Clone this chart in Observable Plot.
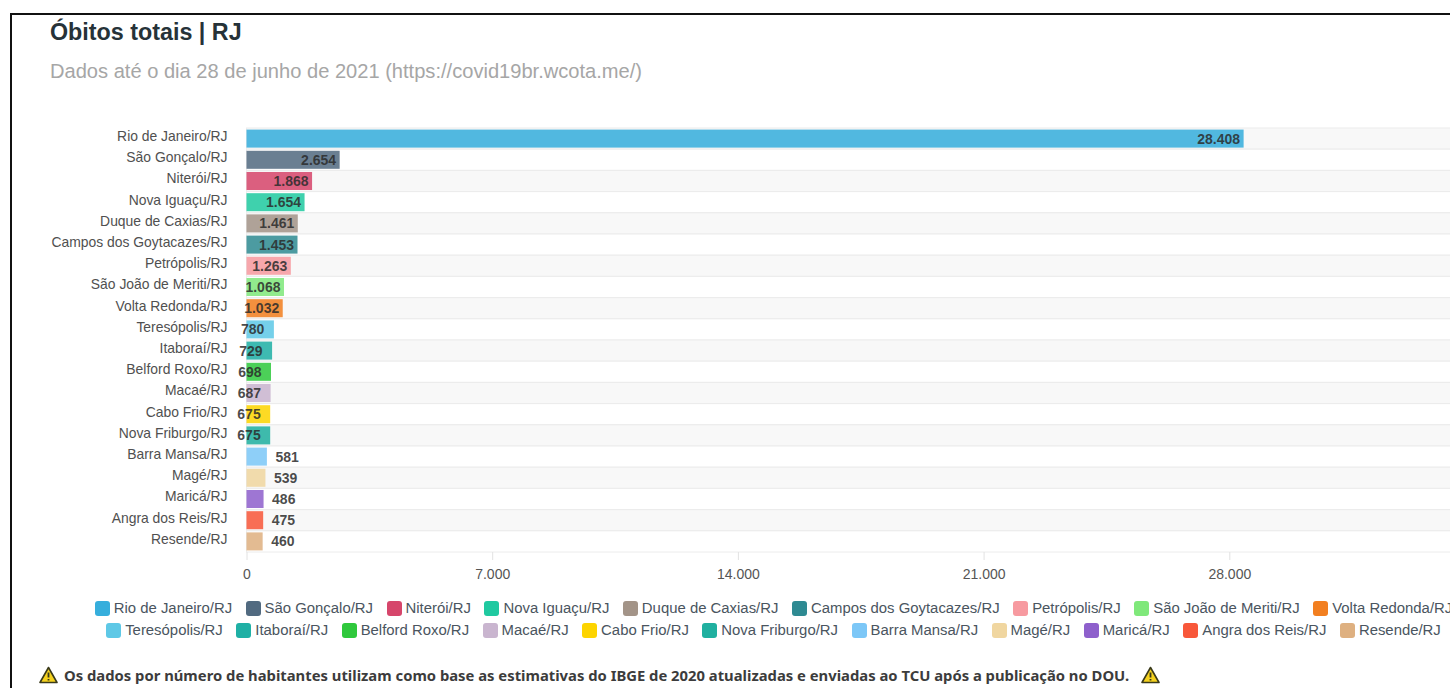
<!DOCTYPE html>
<html lang="pt-BR">
<head>
<meta charset="utf-8">
<title>Óbitos totais | RJ</title>
<script src="https://cdn.jsdelivr.net/npm/d3@7"></script>
<script src="https://cdn.jsdelivr.net/npm/@observablehq/plot@0.6"></script>
<style>
  html, body { margin: 0; width: 1450px; height: 688px; overflow: hidden; background: #fff; }
  body { position: relative; font-family: "Liberation Sans", Arial, sans-serif; }
  #frame { position: absolute; left: 10px; top: 12.5px; width: 1500px; height: 800px;
           border-left: 2px solid #111; border-top: 2px solid #111; }
  #chart { position: absolute; left: 0; top: 0; }
  #title { position: absolute; left: 50px; top: 19px; font-size: 23.3px; font-weight: 700; color: #263238; white-space: nowrap; }
  #subtitle { position: absolute; left: 50px; top: 60px; font-size: 20.1px; color: #a6a6a6; white-space: nowrap; }
  .legend-row { position: absolute; left: 0; width: 1547px; display: flex; justify-content: center;
                white-space: nowrap; font-size: 14.9px; color: #4a5560; line-height: 18px; }
  .legend-item { display: flex; align-items: center; margin: 0 6.75px; }
  .legend-swatch { width: 15px; height: 15px; border-radius: 3px; margin-right: 4px; flex: none; }
  #note { position: absolute; left: 39px; top: 665px; display: flex; align-items: center; white-space: nowrap;
          font-family: "Noto Sans", sans-serif; font-weight: 700; font-size: 14.8px; color: #3c3c3c; }
  #note svg { flex: none; }
  #note span { margin: 0 12px 0 6px; }
</style>
</head>
<body>
<div id="frame"></div>
<div id="chart"></div>
<div id="title">Óbitos totais | RJ</div>
<div id="subtitle">Dados até o dia 28 de junho de 2021 (https://covid19br.wcota.me/)</div>
<div id="legend"></div>
<div id="note"></div>
<script>
const cities = [
  "Rio de Janeiro/RJ", "São Gonçalo/RJ", "Niterói/RJ", "Nova Iguaçu/RJ", "Duque de Caxias/RJ",
  "Campos dos Goytacazes/RJ", "Petrópolis/RJ", "São João de Meriti/RJ", "Volta Redonda/RJ",
  "Teresópolis/RJ", "Itaboraí/RJ", "Belford Roxo/RJ", "Macaé/RJ", "Cabo Frio/RJ", "Nova Friburgo/RJ",
  "Barra Mansa/RJ", "Magé/RJ", "Maricá/RJ", "Angra dos Reis/RJ", "Resende/RJ"
];
const deaths = [
  28408, 2654, 1868, 1654, 1461, 1453, 1263, 1068, 1032,
  780, 729, 698, 687, 675, 675, 581, 539, 486, 475, 460
];
const colors = [
  "#36aedc", "#516a80", "#d6466b", "#1fc9a0", "#a39488", "#2e8a92", "#f79aa0", "#7fe87a", "#f27f20",
  "#5ec8e6", "#1fb0a5", "#2fc83c", "#c9b5cf", "#fdd400", "#20b0a0", "#7cc7f7", "#f0d6a0", "#8e60cc",
  "#f8573a", "#deb080"
];
const xTicks = [0, 7000, 14000, 21000, 28000, 35000];
const legendRows = [cities.slice(0, 9), cities.slice(9)];
const noteText = "Os dados por número de habitantes utilizam como base as estimativas do IBGE de 2020 atualizadas e enviadas ao TCU após a publicação no DOU.";

const rows = cities.map((city, i) => ({city, deaths: deaths[i], color: colors[i], striped: i % 2 === 0}));
const fmt = d3.formatLocale({decimal: ",", thousands: ".", grouping: [3], currency: ["R$", ""]}).format(",d");

// Value labels sit inside long bars, straddle the axis on mid-sized ones and follow short ones.
const valueLabel = (filter, textAnchor, dx) => Plot.text(rows, {
  filter, x: "deaths", y: "city", text: d => fmt(d.deaths),
  textAnchor, dx, fill: "#2b2b2b", fillOpacity: 0.85,
  fontSize: 14, fontWeight: 700
});

const plot = Plot.plot({
  width: 1500,
  height: 600,
  marginTop: 128,
  marginBottom: 48,
  marginLeft: 246.5,
  marginRight: 25,
  style: {maxWidth: "none", background: "transparent", fontFamily: "'Liberation Sans', Arial, sans-serif", overflow: "visible"},
  x: {domain: [0, 35000], label: null},
  y: {domain: cities, label: null, paddingInner: 0.15, paddingOuter: 0.075, round: false},
  marks: [
    Plot.barX(rows, {
      x1: 0, x2: 35000, y: "city",
      fill: d => d.striped ? "#f8f8f8" : "#ffffff",
      stroke: "#ececec", strokeWidth: 1,
      insetTop: -1.59, insetBottom: -1.59
    }),
    Plot.barX(rows, {x: "deaths", y: "city", fill: "color", fillOpacity: 0.86}),
    Plot.axisX({
      ticks: xTicks, tickFormat: fmt, tickSize: 8, tickPadding: 9,
      stroke: "#e2e2e2", color: "#555", fontSize: 14, anchor: "bottom", label: null
    }),
    Plot.axisY({
      tickSize: 0, tickPadding: 19.5, dy: -2.5, fontSize: 13.9, color: "#505050",
      anchor: "left", label: null
    }),
    valueLabel(d => d.deaths >= 1000, "end", -4),
    valueLabel(d => d.deaths >= 600 && d.deaths < 1000, "end", -10),
    valueLabel(d => d.deaths < 600, "start", 8)
  ]
});
document.getElementById("chart").append(plot);

// Legend: two centred rows of rounded swatches.
const legend = d3.select("#legend");
legendRows.forEach((row, r) => {
  const line = legend.append("div").attr("class", "legend-row").style("top", `${599 + r * 22}px`);
  row.forEach(city => {
    const item = line.append("div").attr("class", "legend-item");
    item.append("div").attr("class", "legend-swatch").style("background", colors[cities.indexOf(city)]);
    item.append("div").text(city);
  });
});

// Footnote flanked by two warning triangles.
const warning = `<svg width="19" height="18" viewBox="0 0 19 18">
  <path d="M9.5 1.5 L18 16.5 L1 16.5 Z" fill="#f5d21f" stroke="#3a3a1a" stroke-width="1.6" stroke-linejoin="round"/>
  <path d="M9.5 6.5 V11.5 M9.5 13 V14.6" stroke="#3a3a1a" stroke-width="1.8"/>
</svg>`;
const note = document.getElementById("note");
note.innerHTML = warning;
const noteSpan = document.createElement("span");
noteSpan.textContent = noteText;
note.append(noteSpan);
note.insertAdjacentHTML("beforeend", warning);
</script>
</body>
</html>
